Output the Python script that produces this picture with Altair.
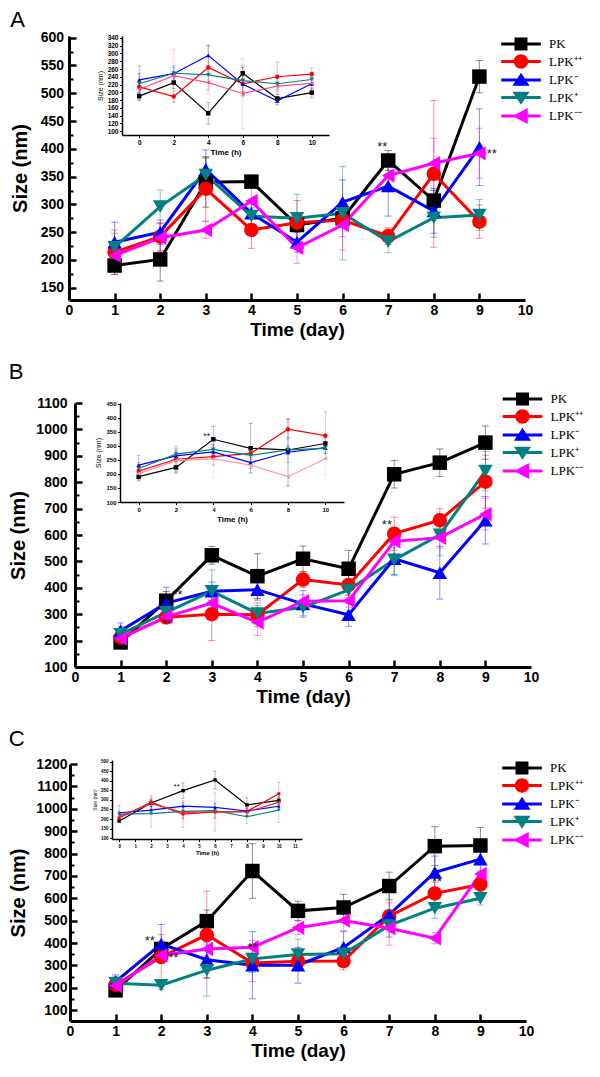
import altair as alt
import pandas as pd

SERIES = ["PK", "LPK⁺⁺", "LPK⁻", "LPK⁺", "LPK⁻⁻"]
COLORS = ["#000000", "#ff0000", "#0000ff", "#008080", "#ff00ff"]
SHAPES = ["square", "circle", "triangle-up", "triangle-down", "triangle-left"]
DAYS = [1, 2, 3, 4, 5, 6, 7, 8, 9]
HOURS = [0, 2, 4, 6, 8, 10]

# ---- Panel A (mean and SD per series, in SERIES order)
A_MEAN = [
    [190, 201, 340, 341, 263, 275, 379, 307, 530],
    [214, 242, 328, 254, 267, 272, 243, 355, 269],
    [232, 250, 363, 284, 232, 304, 333, 288, 403],
    [223, 296, 353, 279, 275, 284, 233, 276, 281],
    [208, 240, 254, 306, 222, 263, 352, 374, 392],
]
A_SD = [
    [16, 39, 45, 10, 12, 12, 18, 18, 29],
    [40, 25, 58, 33, 40, 30, 15, 132, 30],
    [36, 22, 35, 25, 18, 40, 54, 40, 69],
    [25, 30, 30, 15, 43, 84, 20, 35, 28],
    [15, 25, 15, 25, 28, 45, 25, 45, 45],
]
A_STAR_X = [6.87, 9.27]
A_STAR_Y = [403, 390]
AI_MEAN = [
    [190, 225, 146, 249, 184, 199],
    [214, 189, 264, 222, 240, 247],
    [232, 248, 295, 221, 178, 222],
    [222, 249, 245, 230, 222, 233],
    [208, 243, 225, 197, 216, 223],
]
AI_SD = [
    [10, 15, 28, 15, 10, 12],
    [35, 15, 58, 20, 38, 15],
    [36, 20, 25, 30, 10, 20],
    [25, 15, 20, 40, 15, 15],
    [20, 68, 30, 90, 20, 15],
]
AI_STAR_X = []
AI_STAR_Y = []

# ---- Panel B
B_MEAN = [
    [193, 351, 523, 444, 510, 472, 830, 874, 950],
    [212, 288, 300, 298, 431, 411, 605, 656, 802],
    [237, 342, 387, 393, 339, 298, 510, 457, 656],
    [224, 307, 387, 303, 326, 392, 506, 601, 842],
    [208, 290, 342, 269, 349, 351, 576, 590, 679],
]
B_SD = [
    [15, 35, 34, 85, 48, 70, 52, 52, 63],
    [15, 25, 100, 45, 30, 40, 63, 44, 100],
    [30, 60, 35, 40, 50, 44, 60, 100, 90],
    [30, 30, 81, 30, 30, 30, 60, 80, 75],
    [25, 25, 25, 50, 25, 25, 25, 40, 60],
]
B_STAR_X = [2.25, 2.02, 6.84]
B_STAR_Y = [372, 262, 639]
BI_MEAN = [
    [190, 223, 323, 291, 285, 308],
    [210, 252, 261, 273, 359, 336],
    [231, 264, 278, 240, 277, 293],
    [219, 270, 287, 266, 285, 291],
    [201, 247, 253, 231, 190, 254],
]
BI_SD = [
    [15, 20, 46, 88, 15, 20],
    [30, 45, 30, 20, 35, 85],
    [35, 20, 25, 20, 120, 20],
    [15, 20, 20, 20, 45, 20],
    [15, 30, 67, 25, 35, 60],
]
BI_STAR_X = [3.65]
BI_STAR_Y = [335]

# ---- Panel C
C_MEAN = [
    [189, 374, 498, 722, 544, 559, 655, 833, 836],
    [214, 338, 437, 311, 319, 320, 520, 622, 662],
    [228, 396, 326, 301, 301, 381, 527, 716, 775],
    [221, 212, 279, 329, 349, 352, 479, 556, 600],
    [209, 345, 374, 381, 469, 501, 466, 422, 709],
]
C_SD = [
    [15, 30, 50, 122, 43, 59, 62, 87, 80],
    [20, 100, 195, 83, 40, 40, 60, 50, 60],
    [30, 87, 80, 150, 80, 70, 100, 73, 60],
    [30, 20, 116, 60, 69, 30, 30, 45, 30],
    [15, 30, 30, 30, 30, 45, 75, 25, 60],
]
C_STAR_X = [1.75, 2.27, 4.0, 8.05]
C_STAR_Y = [410, 335, 376, 672]
CI_MEAN = [
    [190, 284, 349, 405, 274, 298],
    [205, 289, 226, 237, 240, 333],
    [233, 247, 268, 261, 242, 267],
    [226, 228, 240, 244, 212, 247],
    [214, 281, 235, 237, 237, 289],
]
CI_SD = [
    [10, 20, 40, 45, 40, 20],
    [20, 35, 70, 100, 20, 60],
    [40, 20, 20, 20, 15, 20],
    [15, 70, 40, 40, 35, 65],
    [15, 30, 30, 30, 20, 40],
]
CI_STAR_X = [3.6]
CI_STAR_Y = [368]

A_INSET_COLORS = ["#000000", "#ff0000", "#0000ff", "#008080", "#ff4f8f"]
B_INSET_COLORS = ["#000000", "#ff0000", "#0000ff", "#008080", "#f39aa6"]
C_INSET_COLORS = ["#000000", "#ff0000", "#0000ff", "#008080", "#d9303f"]

FONT = "Liberation Sans"

# legend symbols: a line segment with the series marker on it
_LINE = "M-2.2,-0.17H2.2V0.17H-2.2Z "
LEGEND_SYMBOLS = [
    _LINE + "M-0.72,-0.72H0.72V0.72H-0.72Z",
    _LINE + "M0.8,0A0.8,0.8 0 1,1 -0.8,0A0.8,0.8 0 1,1 0.8,0Z",
    _LINE + "M0,-0.8L0.95,0.65L-0.95,0.65Z",
    _LINE + "M-0.95,-0.65L0.95,-0.65L0,0.8Z",
    _LINE + "M-0.95,0L0.75,-0.9L0.75,0.9Z",
]


def table(xs, means, sds):
    rows = []
    for name, m, s in zip(SERIES, means, sds):
        for x, v, e in zip(xs, m, s):
            rows.append({"x": x, "series": name, "y": v, "lo": v - e, "hi": v + e})
    return pd.DataFrame(rows)


def stars(xs, ys):
    return pd.DataFrame({"x": xs, "y": ys, "t": ["**"] * len(xs)})


def color_enc(rng):
    return alt.Color("series:N", scale=alt.Scale(domain=SERIES, range=rng), legend=None)


def shape_enc():
    return alt.Shape("series:N", scale=alt.Scale(domain=SERIES, range=SHAPES), legend=None)


def main_children(df, ann, g):
    W, H, dx = g["W"], g["H"], g["dx"]
    PW = 456

    def xs():
        return alt.Scale(domain=[0, 10], range=[dx, dx + PW], nice=False, zero=False)

    def ys():
        return alt.Scale(domain=g["ydom"], nice=False, zero=False)

    tick_only = dict(labels=False, domain=False, grid=False, title=None, tickColor="black")
    base = alt.Chart(df)
    out = []
    out.append(base.mark_rule(strokeWidth=1, opacity=0.45).encode(
        x=alt.X("x:Q", scale=xs(), axis=None), y=alt.Y("lo:Q", scale=ys(), axis=None),
        y2="hi:Q", color=color_enc(COLORS)))
    out.append(base.mark_tick(orient="horizontal", size=7, thickness=1, opacity=0.45).encode(
        x=alt.X("x:Q", scale=xs(), axis=None),
        y=alt.Y("lo:Q", scale=ys(), axis=alt.Axis(orient="right", offset=dx - W, values=g["yminor"],
                                                    tickSize=4, tickWidth=2, **tick_only)),
        color=color_enc(COLORS)))
    out.append(base.mark_tick(orient="horizontal", size=7, thickness=1, opacity=0.45).encode(
        x=alt.X("x:Q", scale=xs(), axis=None), y=alt.Y("hi:Q", scale=ys(), axis=None),
        color=color_enc(COLORS)))
    out.append(base.mark_line(strokeWidth=3).encode(
        x=alt.X("x:Q", scale=xs(), axis=alt.Axis(
            orient="bottom", values=list(range(11)), ticks=False, grid=False,
            domainColor="black", domainWidth=3, labelFont=FONT, labelFontSize=14,
            labelFontWeight="bold", labelColor="black", labelPadding=3, labelFlush=False,
            title="Time (day)", titleFont=FONT, titleFontSize=19, titleFontWeight="bold",
            titleColor="black", titlePadding=3)),
        y=alt.Y("y:Q", scale=ys(), axis=alt.Axis(
            orient="left", offset=-dx, values=g["ymajor"], ticks=False, grid=False, format="d",
            domainColor="black", domainWidth=3, labelFont=FONT, labelFontSize=14,
            labelFontWeight="bold", labelColor="black", labelPadding=g["ylp"], labelFlush=False,
            labelOverlap=False, title="Size (nm)", titleFont=FONT, titleFontSize=20,
            titleFontWeight="bold", titleColor="black", titlePadding=g["ytp"])),
        color=color_enc(COLORS)))
    out.append(base.mark_point(filled=True, size=210, opacity=1).encode(
        x=alt.X("x:Q", scale=xs(), axis=alt.Axis(orient="top", offset=-H, values=DAYS,
                                                   tickSize=7, tickWidth=2.5, **tick_only)),
        y=alt.Y("y:Q", scale=ys(), axis=alt.Axis(orient="right", offset=dx - W, values=g["ymajor"],
                                                   tickSize=7, tickWidth=2.5, **tick_only)),
        color=color_enc(COLORS), shape=shape_enc()))
    out.append(alt.Chart(ann).mark_text(fontSize=13, color="#222222", font=FONT).encode(
        x=alt.X("x:Q", scale=xs(), axis=None), y=alt.Y("y:Q", scale=ys(), axis=None), text="t:N"))
    return out


def inset_children(df, ann, g, colors):
    def xs():
        return alt.Scale(domain=g["ixdom"], range=g["ixrange"], nice=False, zero=False)

    def ys():
        return alt.Scale(domain=g["iydom"], range=g["iyrange"], nice=False, zero=False)

    base = alt.Chart(df)
    out = []
    out.append(base.mark_rule(strokeWidth=0.8, opacity=0.35).encode(
        x=alt.X("x:Q", scale=xs(), axis=None), y=alt.Y("lo:Q", scale=ys(), axis=None),
        y2="hi:Q", color=color_enc(colors)))
    for fld in ("lo", "hi"):
        out.append(base.mark_tick(orient="horizontal", size=g["icap"], thickness=0.8, opacity=0.35).encode(
            x=alt.X("x:Q", scale=xs(), axis=None), y=alt.Y(fld + ":Q", scale=ys(), axis=None),
            color=color_enc(colors)))
    out.append(base.mark_line(strokeWidth=1.2).encode(
        x=alt.X("x:Q", scale=xs(), axis=alt.Axis(
            orient="bottom", offset=g["ixoff"], values=g["ixticks"], tickSize=2.5, tickWidth=1,
            tickColor="black", domainColor="black", domainWidth=1.5, grid=False,
            labelFont=FONT, labelFontSize=g["ifs"], labelFontWeight="bold", labelColor="black",
            labelPadding=1.5, labelFlush=False, labelOverlap=False, format="d",
            title="Time (h)", titleFont=FONT, titleFontSize=g["itfs"], titleFontWeight="bold",
            titleColor="black", titlePadding=g["ixtp"])),
        y=alt.Y("y:Q", scale=ys(), axis=alt.Axis(
            orient="left", offset=g["iyoff"], values=g["iyticks"], tickSize=2.5, tickWidth=1,
            tickColor="black", domainColor="black", domainWidth=1.5, grid=False,
            labelFont=FONT, labelFontSize=g["ifs"], labelFontWeight="bold", labelColor="black",
            labelPadding=1.5, labelFlush=False, labelOverlap=False, format="d",
            title="Size (nm)", titleFont=FONT, titleFontSize=g["iyfs"], titleFontWeight="normal",
            titleColor="black", titlePadding=g["iytp"])),
        color=color_enc(colors)))
    out.append(base.mark_point(filled=True, size=g["isize"], opacity=1).encode(
        x=alt.X("x:Q", scale=xs(), axis=None), y=alt.Y("y:Q", scale=ys(), axis=None),
        color=color_enc(colors), shape=shape_enc()))
    if len(ann):
        out.append(alt.Chart(ann).mark_text(fontSize=g["istar"], color="#222222", font=FONT).encode(
            x=alt.X("x:Q", scale=xs(), axis=None), y=alt.Y("y:Q", scale=ys(), axis=None), text="t:N"))
    return out


def legend_layer(g):
    leg = alt.Legend(orient="none", legendX=g["legX"], legendY=g["legY"], title=None,
                     symbolSize=324, symbolStrokeWidth=0, labelFont="Liberation Serif",
                     labelFontSize=13, labelColor="black", labelOffset=19, rowPadding=1.5,
                     padding=0, labelLimit=200)
    return alt.Chart(pd.DataFrame({"series": SERIES})).transform_filter("false").mark_point(
        filled=True, opacity=1).encode(
        color=alt.Color("series:N", scale=alt.Scale(domain=SERIES, range=COLORS), legend=leg),
        shape=alt.Shape("series:N", scale=alt.Scale(domain=SERIES, range=LEGEND_SYMBOLS), legend=leg))


def panel(letter, g, df, ann, idf, iann, icolors):
    layers = main_children(df, ann, g) + inset_children(idf, iann, g, icolors) + [legend_layer(g)]
    return alt.layer(*layers).resolve_scale(
        x="independent", y="independent", color="independent", shape="independent"
    ).properties(
        width=g["W"], height=g["H"],
        title=alt.TitleParams(letter, anchor="start", frame="bounds", fontSize=22,
                              fontWeight="normal", font=FONT, color="black", offset=g["toff"]))


# geometry: x positions relative to the common plot origin, y relative to each panel's plot top
GA = dict(W=450, H=264, dx=-6, ydom=[128, 603], ymajor=list(range(150, 601, 50)),
          yminor=list(range(175, 576, 50)), ylp=5.5, ytp=10,
          ixdom=[-1, 11], ixrange=[47, 254], iydom=[90, 345], iyrange=[99, 0],
          ixoff=-165, iyoff=-47, ixticks=HOURS, iyticks=list(range(100, 341, 20)),
          ifs=6.5, itfs=8, iyfs=7, ixtp=3, iytp=4, isize=20, icap=4, istar=9,
          legX=437, legY=-1, toff=-1)
GB = dict(W=456, H=264, dx=0, ydom=[100, 1100], ymajor=list(range(100, 1101, 100)),
          yminor=list(range(150, 1051, 100)), ylp=8, ytp=7,
          ixdom=[-1, 11], ixrange=[45, 269], iydom=[100, 452], iyrange=[99, 0],
          ixoff=-165, iyoff=-45, ixticks=HOURS, iyticks=list(range(100, 451, 50)),
          ifs=6, itfs=8, iyfs=7, ixtp=3, iytp=4, isize=20, icap=4, istar=9,
          legX=438.5, legY=-13, toff=6)
GC = dict(W=450, H=257, dx=-5, ydom=[52, 1200], ymajor=list(range(100, 1201, 100)),
          yminor=list(range(150, 1151, 100)), ylp=3, ytp=7,
          ixdom=[-0.45, 11.45], ixrange=[37, 227], iydom=[95, 510], iyrange=[75, -4],
          ixoff=-182, iyoff=-37, ixticks=list(range(0, 12)), iyticks=list(range(100, 501, 50)),
          ifs=4.5, itfs=6, iyfs=5, ixtp=2, iytp=3, isize=12, icap=3, istar=8,
          legX=438, legY=-5, toff=6)

pA = panel("A", GA, table(DAYS, A_MEAN, A_SD), stars(A_STAR_X, A_STAR_Y),
           table(HOURS, AI_MEAN, AI_SD), stars(AI_STAR_X, AI_STAR_Y), A_INSET_COLORS)
pB = panel("B", GB, table(DAYS, B_MEAN, B_SD), stars(B_STAR_X, B_STAR_Y),
           table(HOURS, BI_MEAN, BI_SD), stars(BI_STAR_X, BI_STAR_Y), B_INSET_COLORS)
pC = panel("C", GC, table(DAYS, C_MEAN, C_SD), stars(C_STAR_X, C_STAR_Y),
           table(HOURS, CI_MEAN, CI_SD), stars(CI_STAR_X, CI_STAR_Y), C_INSET_COLORS)

chart = alt.concat(pA, pB, pC, columns=1, spacing=20, align="none").resolve_scale(
    color="independent", shape="independent"
).properties(padding=0, background="white").configure_view(stroke="transparent")

chart.save("out.html", embed_options={"renderer": "svg", "actions": False})
